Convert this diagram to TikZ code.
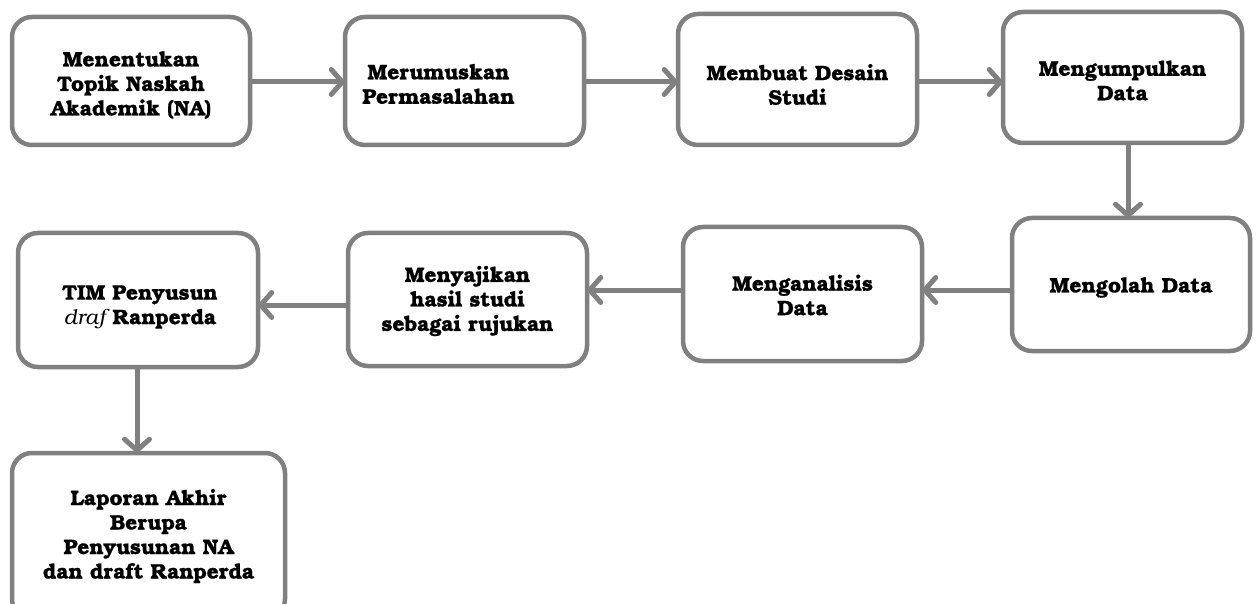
\documentclass[tikz,border=0pt]{standalone}
\usepackage{fontspec}
\setmainfont{texgyrebonum}[Extension=.otf, UprightFont=*-regular, BoldFont=*-bold, ItalicFont=*-italic, BoldItalicFont=*-bolditalic, BoldFeatures={FakeBold=0.6}]
\usetikzlibrary{arrows.meta,calc}
\definecolor{lg}{RGB}{128,128,128}
\tikzset{
  flowbox/.style={draw=lg, line width=4.5pt, rounded corners=20pt, fill=white, inner sep=0pt},
  flowtxt/.style={align=center, inner sep=0pt, font=\bfseries\fontsize{21}{24.5}\selectfont},
  arr/.style={draw=lg, line width=5pt, -{Straight Barb[length=11pt,width=25pt,round]}, shorten >=-2pt}
}
\begin{document}
\begin{tikzpicture}[x=1pt,y=-1pt]
\useasboundingbox (0,0) rectangle (1256,604);
% row 1
\node[flowbox, minimum width=238pt, minimum height=128pt] (b1) at (131,81) {};
\node[flowtxt] (t1) at ($(b1.center)+(0,4)$) {Menentukan\\Topik Naskah\\Akademik (NA)};
\node[flowbox, minimum width=239pt, minimum height=128pt] (b2) at (464.5,81) {};
\node[flowtxt] (t2) at ($(b2.center)+(-26,3)$) {Merumuskan\\Permasalahan};
\node[flowbox, minimum width=239pt, minimum height=131pt] (b3) at (797.5,79.5) {};
\node[flowtxt] (t3) at ($(b3.center)+(0,5)$) {Membuat Desain\\Studi};
\node[flowbox, minimum width=239pt, minimum height=131pt] (b4) at (1122.5,77.5) {};
\node[flowtxt] (t4) at ($(b4.center)+(0,3)$) {Mengumpulkan\\Data};
% row 2
\node[flowbox, minimum width=238pt, minimum height=133pt] (b5) at (1131,284.5) {};
\node[flowtxt] (t5) at ($(b5.center)+(0,3)$) {Mengolah Data};
\node[flowbox, minimum width=239pt, minimum height=134pt] (b6) at (802.5,294) {};
\node[flowtxt] (t6) at ($(b6.center)+(0,1)$) {Menganalisis\\Data};
\node[flowbox, minimum width=239pt, minimum height=133pt] (b7) at (467.5,299.5) {};
\node[flowtxt] (t7) at ($(b7.center)+(0,1.5)$) {Menyajikan\\hasil studi\\sebagai rujukan};
\node[flowbox, minimum width=240pt, minimum height=134pt] (b8) at (138,300) {};
\node[flowtxt] (t8) at ($(b8.center)+(2,7)$) {TIM Penyusun\\{\itshape\mdseries draf} Ranperda};
% row 3
\node[flowbox, minimum width=273pt, minimum height=166pt] (b9) at (148.5,536) {};
\node[flowtxt] (t9) at ($(b9.center)+(0,0)$) {Laporan Akhir\\Berupa\\Penyusunan NA\\dan draft Ranperda};
% connector start points
\coordinate (s12) at ($(b1.east)+(0,1)$);
\coordinate (s23) at ($(b2.east)+(0,1)$);
\coordinate (s34) at ($(b3.east)+(0,2.5)$);
\coordinate (s45) at ($(b4.south)+(5.5,0)$);
\coordinate (s56) at ($(b5.west)+(0,5.5)$);
\coordinate (s67) at ($(b6.west)+(0,-4)$);
\coordinate (s78) at ($(b7.west)+(0,5.5)$);
\coordinate (s89) at ($(b8.south)+(-1,0)$);
% connectors
\draw[arr] (s12) -- (s12 -| b2.west);
\draw[arr] (s23) -- (s23 -| b3.west);
\draw[arr] (s34) -- (s34 -| b4.west);
\draw[arr] (s45) -- (s45 |- b5.north);
\draw[arr] (s56) -- (s56 -| b6.east);
\draw[arr] (s67) -- (s67 -| b7.east);
\draw[arr] (s78) -- (s78 -| b8.east);
\draw[arr] (s89) -- (s89 |- b9.north);
\end{tikzpicture}
\end{document}
